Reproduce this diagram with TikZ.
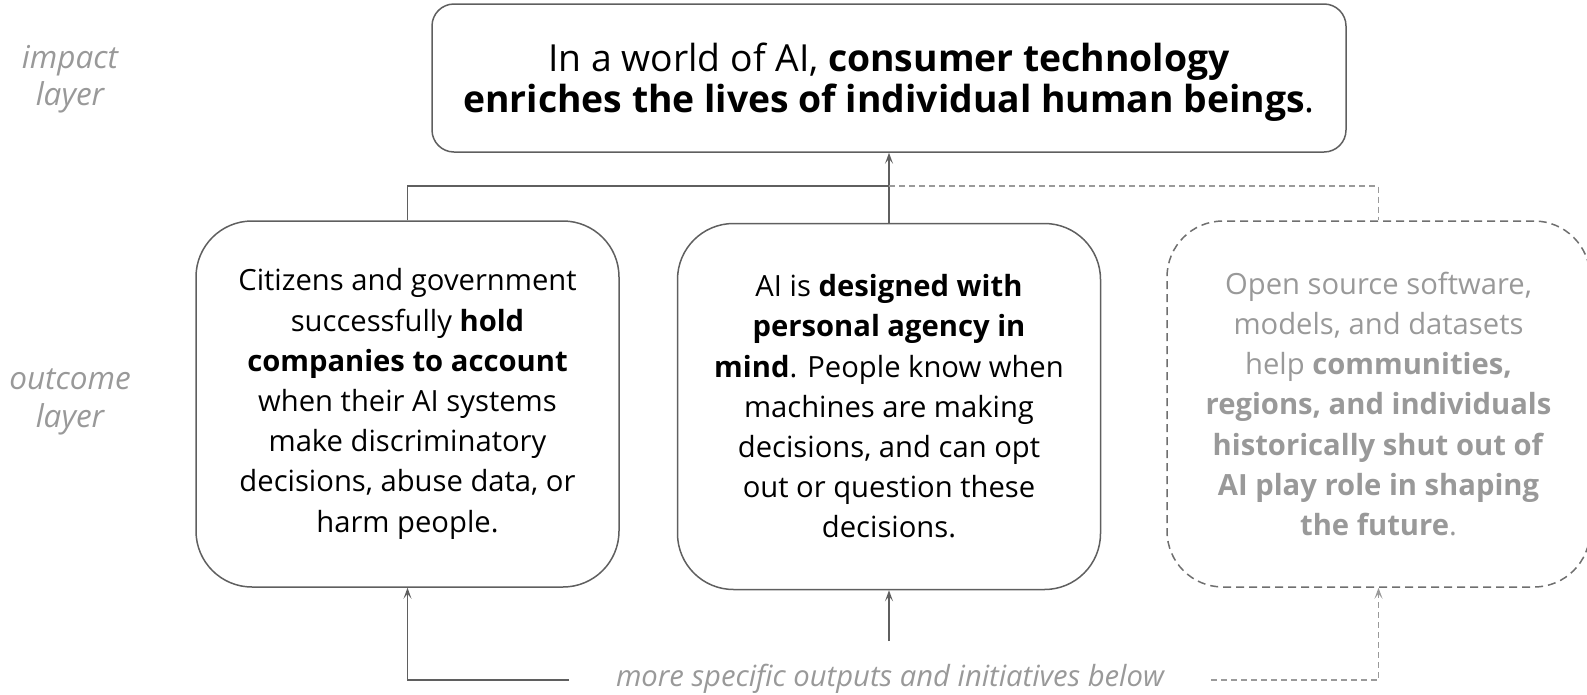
\documentclass[tikz,border=0pt]{standalone}
\usepackage{fontspec}
\setmainfont{Open Sans}
\usetikzlibrary{arrows.meta}

\definecolor{boxline}{HTML}{5F5F5F}
\definecolor{softgray}{HTML}{999999}
\definecolor{dashgray}{HTML}{9A9A9A}

\begin{document}
\begin{tikzpicture}[x=1pt,y=-1pt,
  outcome/.style={draw=boxline, line width=1.5pt, rounded corners=56pt,
    minimum width=423pt, minimum height=366pt, align=center,
    font=\fontsize{29.2}{40.2}\selectfont},
  layername/.style={align=center, text=softgray,
    font=\fontsize{31.5}{37.5}\selectfont\itshape},
  link/.style={draw=boxline, line width=1.5pt},
  dlink/.style={draw=dashgray, line width=1.5pt, dash pattern=on 6pt off 4pt},
  tip/.style={-{Stealth[length=11pt,width=8pt,inset=5pt]}}]
\useasboundingbox (0,0) rectangle (1587,694);

\node[layername] (implabel) at (70,79) {impact\\layer};
\node[layername] (outlabel) at (70,402) {outcome\\layer};

\node[draw=boxline, line width=1.5pt, rounded corners=22pt,
  minimum width=914pt, minimum height=148pt, align=center,
  font=\fontsize{37.3}{41.5}\selectfont] (impact) at (889,78) {};
\node[align=center, font=\fontsize{37.3}{41.5}\selectfont] (impacttext) at (889,82)
  {In a world of AI, \textbf{consumer technology}\\
   \textbf{enriches the lives of individual human beings}.};

\node[outcome] (account) at (407.5,404)
  {Citizens and government\\
   successfully \textbf{hold}\\
   \textbf{companies to account}\\
   when their AI systems\\
   make discriminatory\\
   decisions, abuse data, or\\
   harm people.};

\node[outcome] (agency) at (889,406.5)
  {AI is \textbf{designed with}\\
   \textbf{personal agency in}\\
   \textbf{mind}. People know when\\
   machines are making\\
   decisions, and can opt\\
   out or question these\\
   decisions.};

\node[outcome, draw=boxline!90, dash pattern=on 8pt off 5pt, text=softgray]
  (opensource) at (1378.5,404)
  {Open source software,\\
   models, and datasets\\
   help \textbf{communities,}\\
   \textbf{regions, and individuals}\\
   \textbf{historically shut out of}\\
   \textbf{AI play role in shaping}\\
   \textbf{the future}.};

\node[text=softgray, font=\fontsize{29.2}{36}\selectfont\itshape] (below) at (890,679)
  {more specific outputs and initiatives below};

\coordinate (fork) at (889,186);
\coordinate (lin) at (569,680);
\coordinate (min) at (889,641);
\coordinate (rin) at (1211,680);

\draw[link] (account.north) |- (fork) -- (agency.north);
\draw[link,tip] (fork) -- (impact.south);
\draw[dlink] (fork) -| (opensource.north);

\draw[link,tip] (lin) -| (account.south);
\draw[link,tip] (min) -- (agency.south);
\draw[dlink,tip] (rin) -| (opensource.south);
\end{tikzpicture}
\end{document}
